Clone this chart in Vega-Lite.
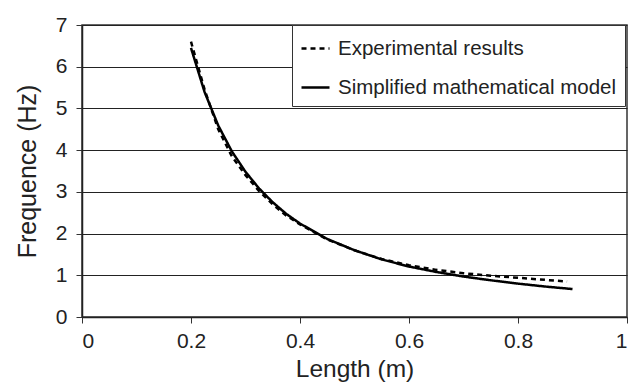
{
  "$schema": "https://vega.github.io/schema/vega-lite/v6.json",
  "width": 545,
  "height": 292,
  "autosize": {"type": "none"},
  "padding": {"left": 82, "top": 25, "right": 12, "bottom": 69},
  "background": "white",
  "config": {
    "font": "Liberation Sans",
    "view": {"stroke": "#333", "strokeWidth": 1.5},
    "axis": {
      "labelFont": "Liberation Sans",
      "titleFont": "Liberation Sans",
      "labelColor": "#222",
      "titleColor": "#222",
      "titleFontWeight": "normal",
      "domainColor": "#222",
      "domainWidth": 1.5,
      "tickColor": "#333",
      "tickSize": 6,
      "tickWidth": 1
    }
  },
  "data": {
    "values": [
      {"series": "Experimental results", "L": 0.2, "f": 6.6},
      {"series": "Experimental results", "L": 0.225, "f": 5.45},
      {"series": "Experimental results", "L": 0.25, "f": 4.5},
      {"series": "Experimental results", "L": 0.275, "f": 3.85},
      {"series": "Experimental results", "L": 0.3, "f": 3.4},
      {"series": "Experimental results", "L": 0.325, "f": 3.02},
      {"series": "Experimental results", "L": 0.35, "f": 2.7},
      {"series": "Experimental results", "L": 0.375, "f": 2.43},
      {"series": "Experimental results", "L": 0.4, "f": 2.22},
      {"series": "Experimental results", "L": 0.45, "f": 1.86},
      {"series": "Experimental results", "L": 0.5, "f": 1.6},
      {"series": "Experimental results", "L": 0.55, "f": 1.39},
      {"series": "Experimental results", "L": 0.6, "f": 1.24},
      {"series": "Experimental results", "L": 0.65, "f": 1.13},
      {"series": "Experimental results", "L": 0.7, "f": 1.05},
      {"series": "Experimental results", "L": 0.75, "f": 0.99},
      {"series": "Experimental results", "L": 0.8, "f": 0.94},
      {"series": "Experimental results", "L": 0.85, "f": 0.89},
      {"series": "Experimental results", "L": 0.89, "f": 0.85},
      {"series": "Simplified mathematical model", "L": 0.2, "f": 6.45},
      {"series": "Simplified mathematical model", "L": 0.225, "f": 5.39},
      {"series": "Simplified mathematical model", "L": 0.25, "f": 4.59},
      {"series": "Simplified mathematical model", "L": 0.275, "f": 3.97},
      {"series": "Simplified mathematical model", "L": 0.3, "f": 3.48},
      {"series": "Simplified mathematical model", "L": 0.325, "f": 3.08},
      {"series": "Simplified mathematical model", "L": 0.35, "f": 2.75},
      {"series": "Simplified mathematical model", "L": 0.375, "f": 2.47},
      {"series": "Simplified mathematical model", "L": 0.4, "f": 2.24},
      {"series": "Simplified mathematical model", "L": 0.45, "f": 1.87},
      {"series": "Simplified mathematical model", "L": 0.5, "f": 1.6},
      {"series": "Simplified mathematical model", "L": 0.55, "f": 1.38},
      {"series": "Simplified mathematical model", "L": 0.6, "f": 1.21},
      {"series": "Simplified mathematical model", "L": 0.65, "f": 1.08},
      {"series": "Simplified mathematical model", "L": 0.7, "f": 0.97},
      {"series": "Simplified mathematical model", "L": 0.75, "f": 0.88},
      {"series": "Simplified mathematical model", "L": 0.8, "f": 0.8},
      {"series": "Simplified mathematical model", "L": 0.85, "f": 0.73},
      {"series": "Simplified mathematical model", "L": 0.9, "f": 0.67}
    ]
  },
  "mark": {"type": "line", "color": "black", "strokeWidth": 2.5},
  "encoding": {
    "x": {
      "field": "L",
      "type": "quantitative",
      "scale": {"domain": [0, 1], "nice": false},
      "axis": {
        "values": [0, 0.2, 0.4, 0.6, 0.8, 1],
        "format": "~g",
        "grid": false,
        "labelFontSize": 21,
        "labelPadding": 7,
        "title": "Length (m)",
        "titleFontSize": 24.5,
        "titlePadding": 6
      }
    },
    "y": {
      "field": "f",
      "type": "quantitative",
      "scale": {"domain": [0, 7], "nice": false},
      "axis": {
        "values": [0, 1, 2, 3, 4, 5, 6, 7],
        "grid": true,
        "gridColor": "#222",
        "gridWidth": 1,
        "labelFontSize": 21,
        "labelPadding": 9,
        "title": "Frequence (Hz)",
        "titleFontSize": 25,
        "titlePadding": 15
      }
    },
    "strokeDash": {
      "field": "series",
      "type": "nominal",
      "scale": {
        "domain": ["Experimental results", "Simplified mathematical model"],
        "range": [[5, 4], [1, 0]]
      },
      "legend": {
        "title": null,
        "orient": "none",
        "legendX": 210,
        "legendY": 0,
        "direction": "vertical",
        "strokeColor": "#333",
        "fillColor": "white",
        "padding": 8,
        "symbolType": "stroke",
        "symbolSize": 784,
        "symbolStrokeWidth": 2.5,
        "symbolStrokeColor": "black",
        "labelFontSize": 20.5,
        "labelFont": "Liberation Sans",
        "labelColor": "#222",
        "labelLimit": 400,
        "labelOffset": 7,
        "rowPadding": 13
      }
    }
  }
}
